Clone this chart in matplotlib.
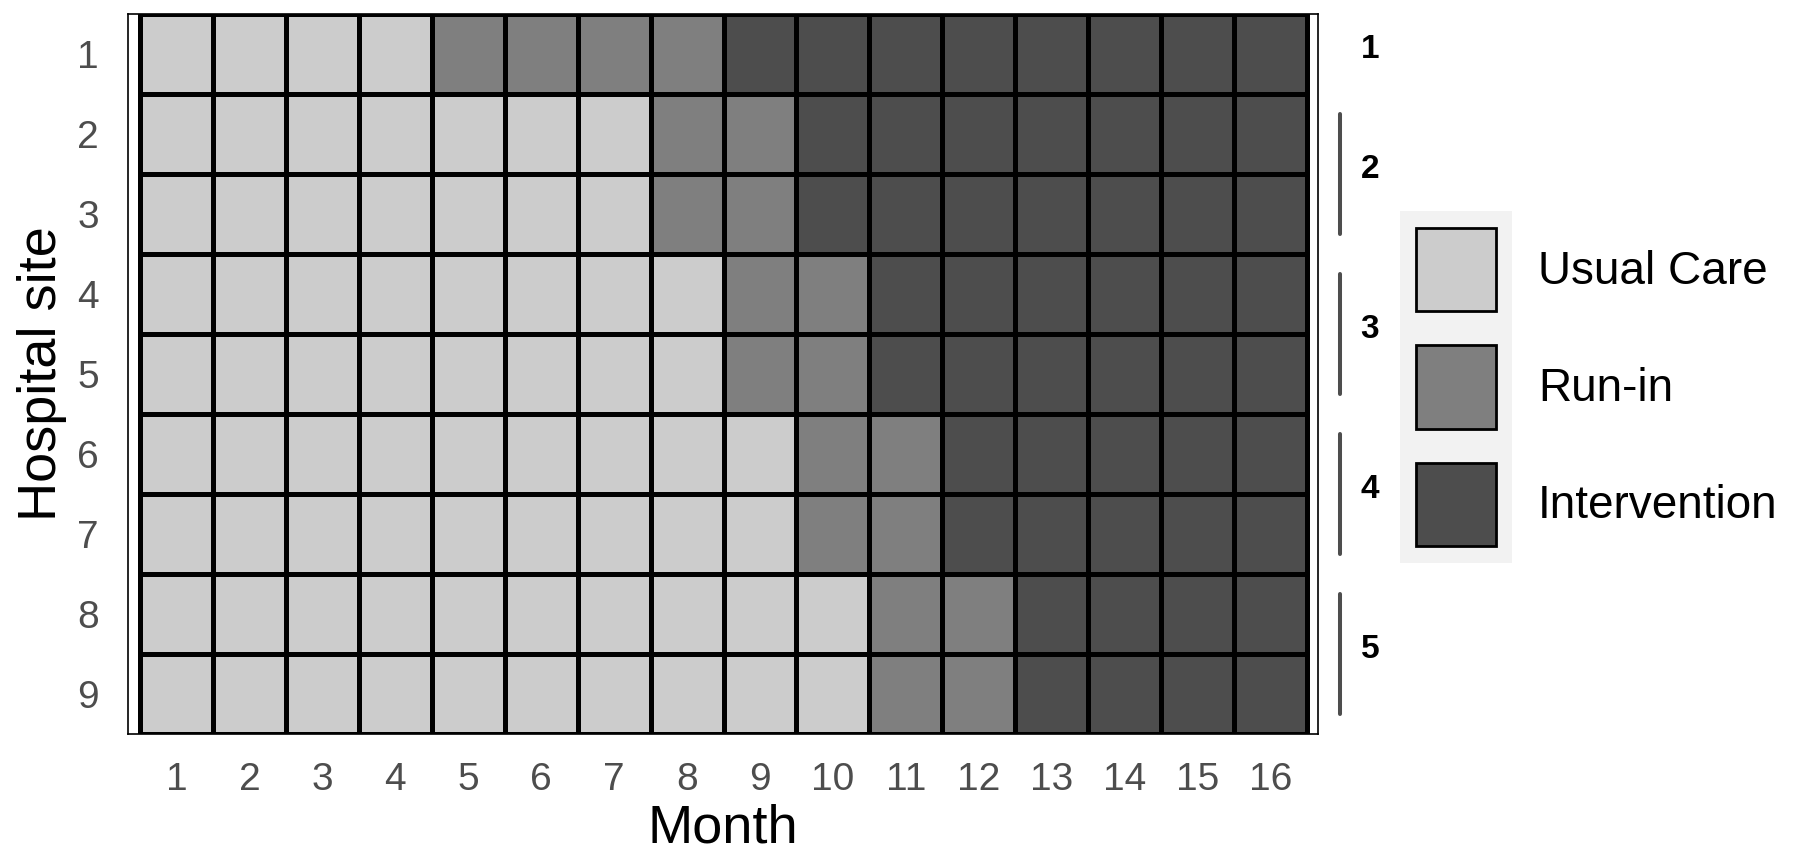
import numpy as np
import matplotlib
matplotlib.use("Agg")
import matplotlib.pyplot as plt
from matplotlib.colors import ListedColormap, BoundaryNorm
from matplotlib.patches import Patch, Rectangle

plt.rcParams['font.family'] = ['Liberation Sans', 'DejaVu Sans']

# ---- data ----
sites = [1, 2, 3, 4, 5, 6, 7, 8, 9]
months = list(range(1, 17))
runin_start = [5, 8, 8, 9, 9, 10, 10, 11, 11]      # first run-in month per site
interv_start = [9, 10, 10, 11, 11, 12, 12, 13, 13]  # first intervention month per site
phases = ["Usual Care", "Run-in", "Intervention"]
phase_colors = ["#CCCCCC", "#7F7F7F", "#4D4D4D"]
groups = ["1", "2", "3", "4", "5"]
group_sites = [[1], [2, 3], [4, 5], [6, 7], [8, 9]]

# build status matrix (0 = usual care, 1 = run-in, 2 = intervention)
m = np.array(months)
status = np.array([np.where(m >= iv, 2, np.where(m >= ri, 1, 0))
                   for ri, iv in zip(runin_start, interv_start)])

W, H = 1800, 866
fig = plt.figure(figsize=(W / 100, H / 100), dpi=100)
ax = fig.add_axes([128 / W, 1 - 734 / H, (1318 - 128) / W, (734 - 14) / H])

cmap = ListedColormap(phase_colors)
norm = BoundaryNorm([-0.5, 0.5, 1.5, 2.5], cmap.N)
xe = np.arange(len(months) + 1) + 0.5
ye = np.arange(len(sites) + 1) + 0.5
ax.pcolormesh(xe, ye, status, cmap=cmap, norm=norm,
              edgecolors="black", linewidth=2.2)

ax.set_xlim(0.5 - 0.165, len(months) + 0.5 + 0.15)
ax.set_ylim(len(sites) + 0.5, 0.5)
ax.set_xticks(months)
ax.set_xticklabels([str(v) for v in months])
ax.set_yticks(sites)
ax.set_yticklabels([str(v) for v in sites])
ax.tick_params(axis="x", length=0, pad=20, labelsize=28, labelcolor="#4D4D4D")
ax.tick_params(axis="y", length=0, pad=21, labelsize=28, labelcolor="#4D4D4D")
for s in ax.spines.values():
    s.set_linewidth(1.2)
    s.set_color("black")

ax.set_xlabel("Month", fontsize=39, labelpad=4)
ax.set_ylabel("Hospital site", fontsize=39, labelpad=7)

# group brackets and labels on the right
line_x = 16.95
label_x = 17.36
for g, rows in zip(groups, group_sites):
    c = np.mean(rows)
    if len(rows) > 1:
        ax.plot([line_x, line_x], [c - 0.75, c + 0.75], color="#4D4D4D",
                lw=2.9, solid_capstyle="round", clip_on=False)
    ax.text(label_x, c - 0.05, g, fontsize=24, fontweight="bold",
            ha="center", va="center", clip_on=False)

# legend key background
fig.patches.append(Rectangle((1400 / W, 1 - 563 / H), 112 / W, (563 - 211) / H,
                             transform=fig.transFigure, facecolor="#F2F2F2",
                             edgecolor="none", zorder=0))

handles = [Patch(facecolor=c, edgecolor="black", linewidth=2.0, label=l)
           for c, l in zip(phase_colors, phases)]
fs = 33
fpx = fs * 100 / 72
leg = fig.legend(handles=handles, loc="upper left",
                 bbox_to_anchor=(1416 / W, 1 - 228 / H),
                 fontsize=fs, frameon=False, borderpad=0, borderaxespad=0,
                 handlelength=80 / fpx, handleheight=2.42,
                 labelspacing=34 / fpx, handletextpad=42 / fpx)

fig.savefig("out.png", dpi=100)
